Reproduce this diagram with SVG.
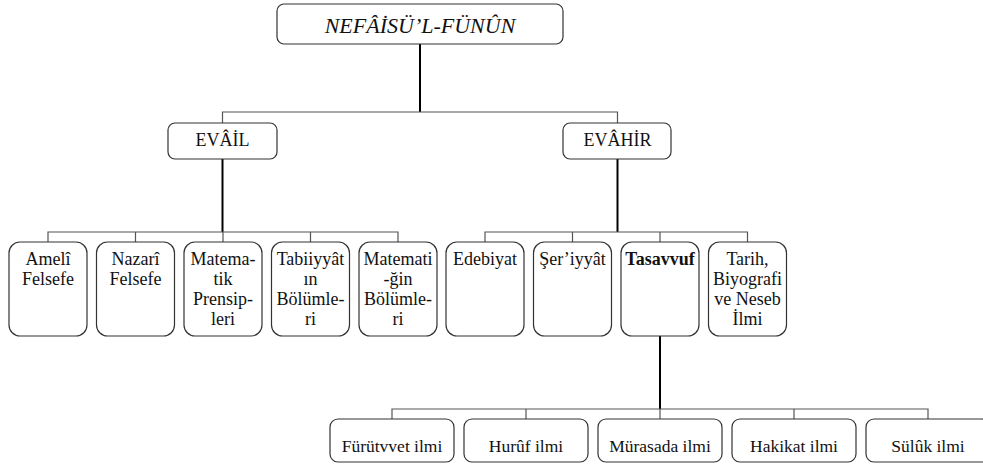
<svg xmlns="http://www.w3.org/2000/svg" width="983" height="464" viewBox="0 0 983 464">
<style>
.box{fill:#fff;stroke:#333;stroke-width:1.2}
.t{font-family:'Liberation Serif','Times New Roman',serif;font-size:18px;fill:#111;text-anchor:middle}
.b{font-family:'Liberation Serif','Times New Roman',serif;font-size:17.5px;fill:#111;text-anchor:middle}
.bar{stroke:#555;stroke-width:1.2;fill:none}
.main{stroke:#000;stroke-width:2;fill:none}
</style>
<rect width="983" height="464" fill="#fff"/>
<g id="connectors">
<line class="main" x1="420" y1="44" x2="420" y2="112"/>
<path class="bar" d="M222.5,123 V112 H617.5 V123"/>
<line class="main" x1="222.5" y1="159" x2="222.5" y2="232"/>
<path class="bar" d="M48,242 V232 H398 V242 M135.5,232 V242 M223,232 V242 M310.5,232 V242"/>
<line class="main" x1="617.5" y1="159" x2="617.5" y2="232"/>
<path class="bar" d="M485,242 V232 H747.5 V242 M572.5,232 V242 M660,232 V242"/>
<line class="main" x1="660" y1="336" x2="660" y2="409"/>
<path class="bar" d="M392,419 V409 H928 V419 M526,409 V419 M660,409 V419 M794,409 V419"/>
</g>
<g id="root"><rect class="box" x="277" y="4" width="286" height="40" rx="7"/><text x="420" y="33" font-family="Liberation Serif, Times New Roman, serif" font-size="22" font-style="italic" fill="#111" text-anchor="middle">NEFÂİSÜ’L-FÜNÛN</text></g>
<g font-family="Liberation Serif, Times New Roman, serif">
<g id="evail"><rect class="box" x="168" y="123" width="109" height="36" rx="7"/><text class="t" x="222.5" y="146">EVÂİL</text></g>
<g id="evahir"><rect class="box" x="563" y="123" width="108" height="36" rx="7"/><text class="t" x="617.5" y="146">EVÂHİR</text></g>
<g id="ameli"><rect class="box" x="9" y="242" width="78" height="94" rx="11"/><text class="t" x="48" y="265">Amelî<tspan x="48" dy="20">Felsefe</tspan></text></g>
<g id="nazari"><rect class="box" x="96.5" y="242" width="78" height="94" rx="11"/><text class="t" x="135.5" y="265">Nazarî<tspan x="135.5" dy="20">Felsefe</tspan></text></g>
<g id="matematik"><rect class="box" x="184" y="242" width="78" height="94" rx="11"/><text class="t" x="223" y="265">Matema-<tspan x="223" dy="20">tik</tspan><tspan x="223" dy="20">Prensip-</tspan><tspan x="223" dy="20">leri</tspan></text></g>
<g id="tabiiyyat"><rect class="box" x="271.5" y="242" width="78" height="94" rx="11"/><text class="t" x="310.5" y="265">Tabiiyyât<tspan x="310.5" dy="20">ın</tspan><tspan x="310.5" dy="20">Bölümle-</tspan><tspan x="310.5" dy="20">ri</tspan></text></g>
<g id="matematigin"><rect class="box" x="359" y="242" width="78" height="94" rx="11"/><text class="t" x="398" y="265">Matemati<tspan x="398" dy="20">-ğin</tspan><tspan x="398" dy="20">Bölümle-</tspan><tspan x="398" dy="20">ri</tspan></text></g>
<g id="edebiyat"><rect class="box" x="446" y="242" width="78" height="94" rx="11"/><text class="t" x="485" y="265">Edebiyat</text></g>
<g id="seriyyat"><rect class="box" x="533.5" y="242" width="78" height="94" rx="11"/><text class="t" x="572.5" y="265">Şer’iyyât</text></g>
<g id="tasavvuf"><rect class="box" x="621" y="242" width="78" height="94" rx="11"/><text class="t" x="660" y="265" font-weight="bold">Tasavvuf</text></g>
<g id="tarih"><rect class="box" x="708.5" y="242" width="78" height="94" rx="11"/><text class="t" x="747.5" y="265">Tarih,<tspan x="747.5" dy="20">Biyografi</tspan><tspan x="747.5" dy="20">ve Neseb</tspan><tspan x="747.5" dy="20">İlmi</tspan></text></g>
<g id="futuvvet"><rect class="box" x="330" y="419" width="124" height="43" rx="8"/><text class="b" x="392" y="452">Fürütvvet ilmi</text></g>
<g id="huruf"><rect class="box" x="464" y="419" width="124" height="43" rx="8"/><text class="b" x="526" y="452">Hurûf ilmi</text></g>
<g id="murasada"><rect class="box" x="598" y="419" width="124" height="43" rx="8"/><text class="b" x="660" y="452">Mürasada ilmi</text></g>
<g id="hakikat"><rect class="box" x="732" y="419" width="124" height="43" rx="8"/><text class="b" x="794" y="452">Hakikat ilmi</text></g>
<g id="suluk"><rect class="box" x="866" y="419" width="124" height="43" rx="8"/><text class="b" x="928" y="452">Sülûk ilmi</text></g>
</g>
</svg>
